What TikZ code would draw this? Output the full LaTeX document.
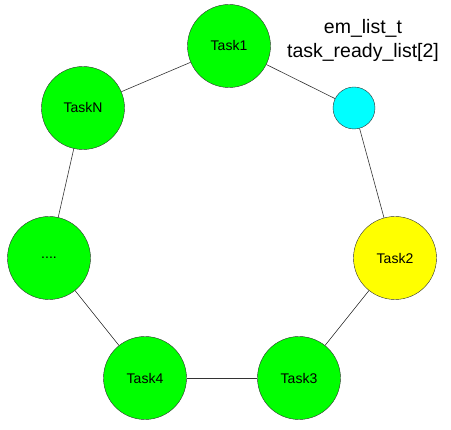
\documentclass[tikz,border=0pt]{standalone}
\usepackage{fontspec}
\setmainfont{Liberation Sans}
\usepackage{xcolor}
\usepackage{tikz}
\usetikzlibrary{positioning}

\definecolor{taskgreen}{HTML}{00FF00}
\definecolor{headcyan}{HTML}{00FFFF}
\definecolor{taskyellow}{HTML}{FFFF00}

\begin{document}
\begin{tikzpicture}[x=1pt, y=-1pt,
    task/.style={circle, draw=black!80, fill=taskgreen, minimum size=83pt, inner sep=0pt, font=\fontsize{14}{16}\selectfont},
    headnode/.style={circle, draw=black!80, fill=headcyan, minimum size=42pt, inner sep=0pt},
    link/.style={black!80, line width=0.6pt}]
    % Fix picture size
    \useasboundingbox (0, 0) rectangle (451, 430);
    
    % Draw list head and task nodes
    \node[headnode] (head) at (354, 108) {};
    \node[task] (task1) at (229, 46) {Task1};
    \node[task, fill=taskyellow] (task2) at (395, 258) {Task2};
    \node[task] (task3) at (299, 378) {Task3};
    \node[task] (task4) at (145, 378) {Task4};
    \node[task] (dots) at (49, 258) {....};
    \node[task] (taskN) at (83, 108) {TaskN};
    
    % Label of list head
    \node[font=\fontsize{19.5}{24}\selectfont, align=center] (headlabel) at (363, 40) {em\_list\_t\\task\_ready\_list[2]};
    
    % Draw ring links
    \draw[link] (task1) -- (head);
    \draw[link] (head) -- (task2);
    \draw[link] (task2) -- (task3);
    \draw[link] (task3) -- (task4);
    \draw[link] (task4) -- (dots);
    \draw[link] (dots) -- (taskN);
    \draw[link] (taskN) -- (task1);
    
\end{tikzpicture}
\end{document}
